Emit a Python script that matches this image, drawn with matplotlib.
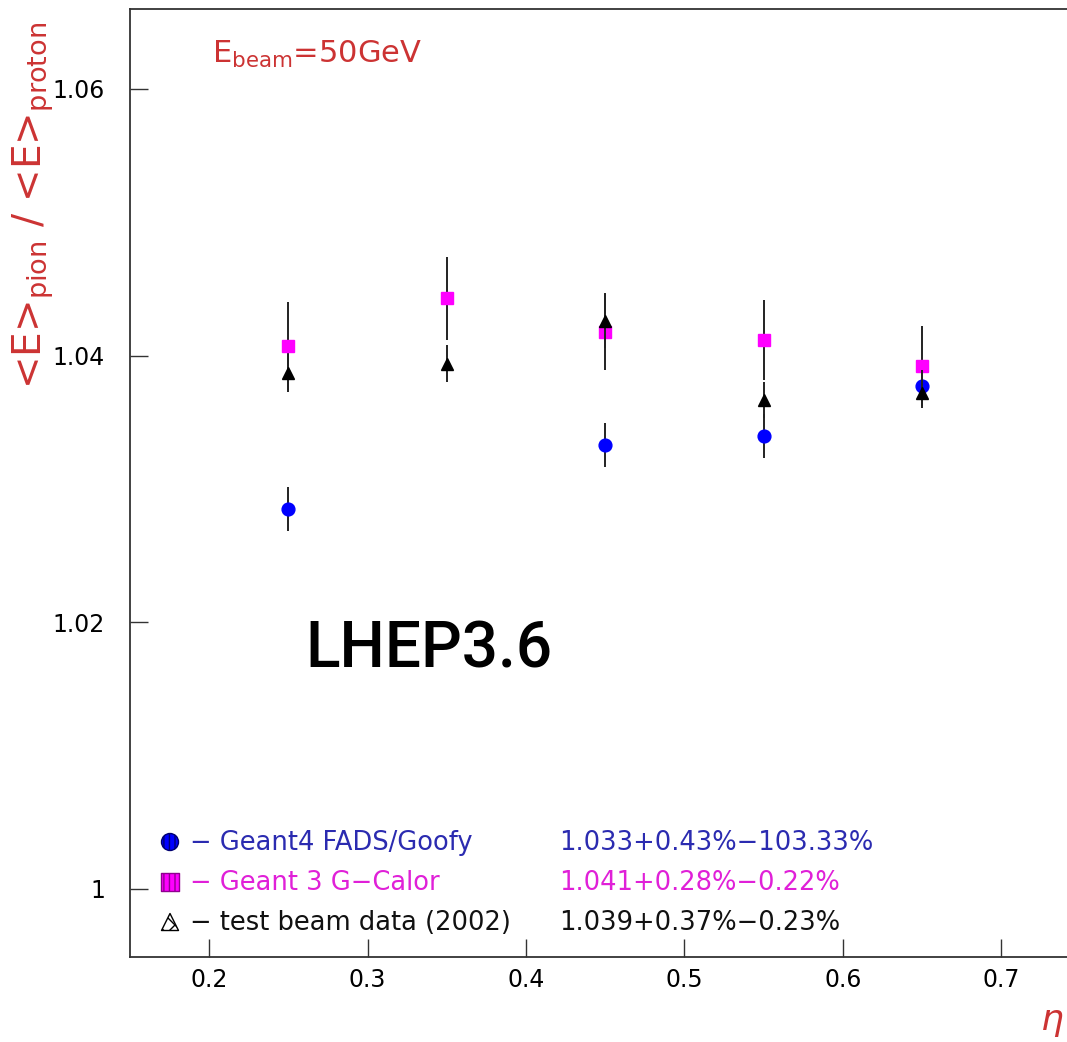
import matplotlib
matplotlib.use("Agg")
import matplotlib.pyplot as plt

plt.rcParams['font.family'] = ['DejaVu Sans']
plt.rcParams['mathtext.default'] = 'regular'

# ---- data ----
eta_g4 = [0.25, 0.45, 0.55, 0.65]
ratio_g4 = [1.0285, 1.0333, 1.0340, 1.0377]
err_g4 = [0.00165, 0.00165, 0.00165, 0.0012]

eta_g3 = [0.25, 0.35, 0.45, 0.55, 0.65]
ratio_g3 = [1.0407, 1.0443, 1.0418, 1.0412, 1.0392]
err_g3 = [0.0033, 0.0031, 0.0029, 0.0030, 0.0030]

eta_tb = [0.25, 0.35, 0.45, 0.55, 0.65]
ratio_tb = [1.0387, 1.0394, 1.0426, 1.0367, 1.0372]
err_tb = [0.0014, 0.0014, 0.0020, 0.00135, 0.0011]

legend_names = ["\u2212 Geant4 FADS/Goofy", "\u2212 Geant 3 G\u2212Calor",
                "\u2212 test beam data (2002)"]
legend_values = ["1.033+0.43%\u2212103.33%", "1.041+0.28%\u22120.22%",
                 "1.039+0.37%\u22120.23%"]
xticks = [0.2, 0.3, 0.4, 0.5, 0.6, 0.7]
yticks = [1.0, 1.02, 1.04, 1.06]
ytick_labels = ["1", "1.02", "1.04", "1.06"]

W, H = 1067, 1042
fig = plt.figure(figsize=(W / 100, H / 100), dpi=100)
fig.patch.set_facecolor('white')

left_px, bottom_px, top_px = 130, 957, 9
xmin, xmax = 0.15, 0.80
px_per_unit_x = 1584.0
ax_w = (xmax - xmin) * px_per_unit_x / W
ax = fig.add_axes([left_px / W, 1 - bottom_px / H, ax_w, (bottom_px - top_px) / H])
ax.set_xlim(xmin, xmax)
ax.set_ylim(0.9949, 1.066)

ecol = '#222222'
ax.errorbar(eta_g3, ratio_g3, yerr=err_g3, fmt='s', color='#ff00ff', ms=9.2,
            ecolor=ecol, elinewidth=1.4, capsize=0, zorder=3)
ax.errorbar(eta_g4, ratio_g4, yerr=err_g4, fmt='o', color='#0000ff', ms=9.2,
            ecolor=ecol, elinewidth=1.4, capsize=0, zorder=4)
ax.errorbar(eta_tb, ratio_tb, yerr=err_tb, fmt='^', color='black', ms=8.5,
            ecolor=ecol, elinewidth=1.4, capsize=0, zorder=5)

ax.set_xticks(xticks)
ax.set_xticklabels([f"{v:.1f}" for v in xticks])
ax.set_yticks(yticks)
ax.set_yticklabels(ytick_labels)
ax.tick_params(axis='both', direction='in', length=13, width=1.0, color='#333333',
               labelsize=17, top=False, right=False)
ax.tick_params(axis='y', pad=18)
ax.tick_params(axis='x', pad=8)
for s in ax.spines.values():
    s.set_color('#333333')
    s.set_linewidth(1.3)

red = '#cc3333'
# y label
fig.text(33 / W, 1 - 205 / H,
         "<E>$_{pion}$ / <E>$_{proton}$",
         rotation=90, color=red, fontsize=28, ha='center', va='center')
# x label (eta)
fig.text(1041 / W, (H - 1030) / H, "\u03b7", color=red, fontsize=26,
         style='italic', ha='left', va='baseline')

# beam energy
fig.text(212 / W, 1 - 63 / H, "E$_{beam}$=50GeV", color=red, fontsize=22,
         ha='left', va='baseline')

# model label
fig.text(305 / W, 1 - 667 / H, "LHEP3.6", color='black', fontsize=46,
         family='Roboto', fontweight='medium', ha='left', va='baseline')

# legend block
rows_px = [850, 890, 930]
name_cols = ['#2b2bb0', '#e020d8', '#111111']
icon_style = [
    dict(marker='o', facecolor='#0000ff', edgecolor='#000070', hatch='|||'),
    dict(marker='s', facecolor='#ff00ff', edgecolor='#900090', hatch='|||'),
    dict(marker='^', facecolor='white', edgecolor='black', hatch='xx'),
]
for i, yb in enumerate(rows_px):
    fy = 1 - yb / H
    fig.text(190 / W, fy, legend_names[i], color=name_cols[i], fontsize=18.5,
             ha='left', va='baseline')
    fig.text(559 / W, fy, legend_values[i], color=name_cols[i], fontsize=18.5,
             ha='left', va='baseline')
    st = icon_style[i]
    ax.scatter([170 / W], [1 - (yb - 8) / H], s=150, marker=st['marker'],
               facecolor=st['facecolor'], edgecolor=st['edgecolor'],
               hatch=st['hatch'], linewidth=1.0, transform=fig.transFigure,
               clip_on=False, zorder=6)

fig.savefig("out.png", dpi=100)
